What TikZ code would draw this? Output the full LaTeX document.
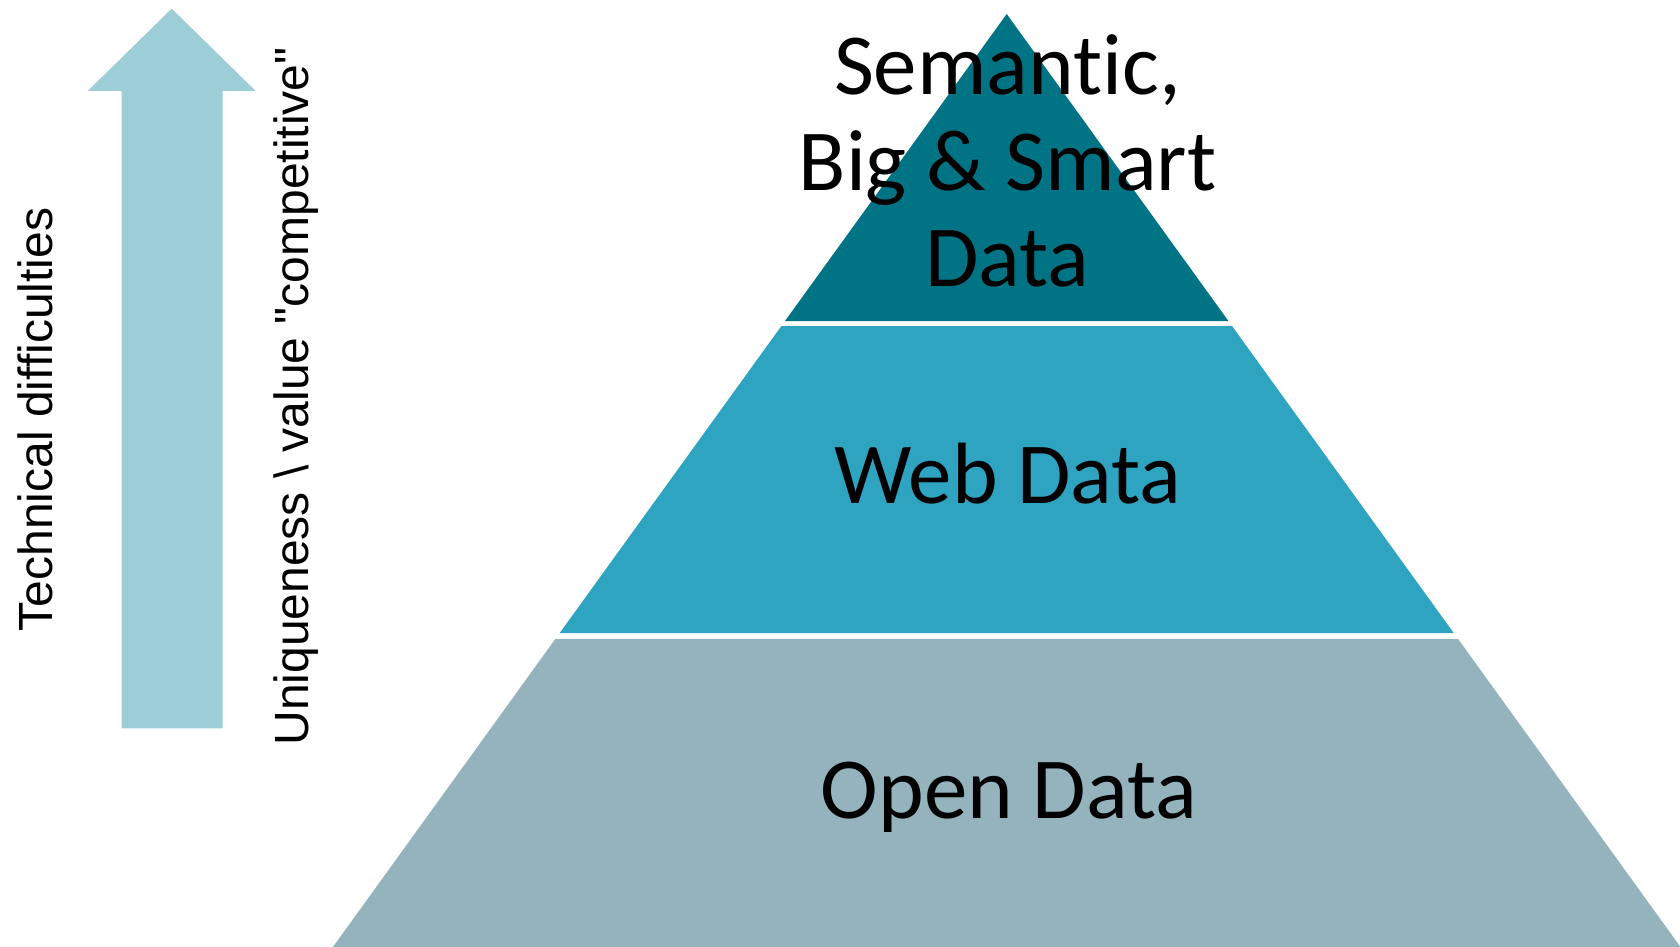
\documentclass[tikz,border=0pt]{standalone}
\usepackage{fontspec}
\newfontfamily\arialf{Liberation Sans}
\newfontfamily\calib[Ligatures=NoCommon]{Carlito}
\definecolor{topc}{RGB}{0,116,133}
\definecolor{midc}{RGB}{46,164,192}
\definecolor{botc}{RGB}{149,179,189}
\definecolor{arrc}{RGB}{157,206,216}
\tikzset{
  band/.style={draw=none},
  pyrlabel/.style={font=\calib\fontsize{87}{96}\selectfont, text=black, inner sep=0pt, align=center},
  sidelabel/.style={font=\arialf\fontsize{48}{54}\selectfont, text=black, inner sep=0pt, rotate=90, anchor=base}
}
\begin{document}
\begin{tikzpicture}[x=1pt,y=-1pt]
\useasboundingbox (0,0) rectangle (1680,947);
% arrow
\fill[arrc] (121.7,728.3) -- (121.7,91) -- (87.7,91) -- (171.7,8.6) -- (255.7,91) -- (222.7,91) -- (222.7,728.3) -- cycle;
% pyramid bands
\fill[band,topc] (1006.7,14) -- (1228.4,321) -- (785.0,321) -- cycle;
\fill[band,midc] (781.4,326) -- (1232.0,326) -- (1453.7,633) -- (559.7,633) -- cycle;
\fill[band,botc] (555.3,639) -- (1458.1,639) -- (1680.5,947) -- (332.9,947) -- cycle;
% labels
\node[pyrlabel, anchor=base] (top) at (1007.5,286.7) {Semantic,\\Big \& Smart\\Data};
\node[pyrlabel, anchor=base] (web) at (1008,503.3) {Web Data};
\node[pyrlabel, anchor=base] (open) at (1009,818.3) {Open Data};
\node[sidelabel] (tech) at (52.3,419.5) {Technical difficulties};
\node[sidelabel] (uniq) at (308.3,396.4) {Uniqueness \textbackslash{} value "competitive"};
\end{tikzpicture}
\end{document}
